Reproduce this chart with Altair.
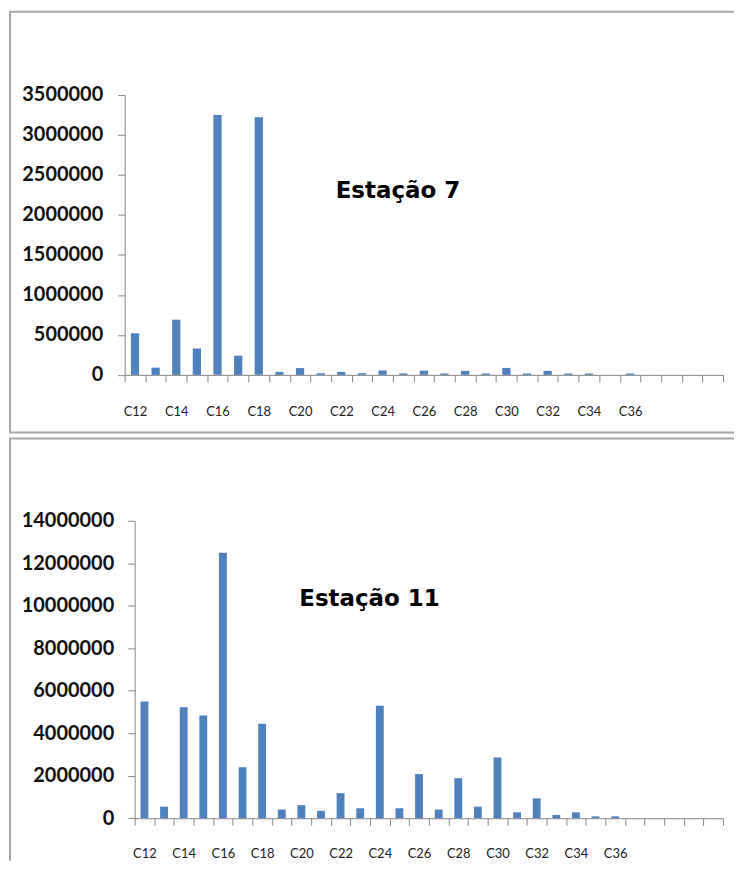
import altair as alt
import pandas as pd

# ---------------- data ----------------
cats_7 = ["C12", "C13", "C14", "C15", "C16", "C17", "C18", "C19", "C20", "C21",
          "C22", "C23", "C24", "C25", "C26", "C27", "C28", "C29", "C30", "C31",
          "C32", "C33", "C34", "C35", "C36", "C37", "C38", "C39", "C40"]
vals_7 = [520000, 90000, 690000, 330000, 3250000, 240000, 3220000, 37000, 85000, 20000,
          37000, 20000, 55000, 18000, 53000, 17000, 50000, 17000, 87000, 17000,
          50000, 17000, 17000, 0, 17000, 0, 0, 0, 0]

cats_11 = ["C12", "C13", "C14", "C15", "C16", "C17", "C18", "C19", "C20", "C21",
           "C22", "C23", "C24", "C25", "C26", "C27", "C28", "C29", "C30", "C31",
           "C32", "C33", "C34", "C35", "C36", "C37", "C38", "C39", "C40", "C41"]
vals_11 = [5500000, 545000, 5220000, 4830000, 12500000, 2400000, 4450000, 410000, 615000, 350000,
           1180000, 470000, 5300000, 470000, 2080000, 405000, 1885000, 545000, 2860000, 280000,
           935000, 155000, 280000, 90000, 90000, 0, 0, 0, 0, 0]

yticks_7 = [0, 500000, 1000000, 1500000, 2000000, 2500000, 3000000, 3500000]
yticks_11 = [0, 2000000, 4000000, 6000000, 8000000, 10000000, 12000000, 14000000]

titles = ["Estação 7", "Estação 11"]

BAR = "#4F81BD"
AXIS = "#868686"
BORDER = "#A6A6A6"
W = 727
H = 427

label_expr = ("(toNumber(substring(datum.value, 1)) % 2 == 0 && "
              "toNumber(substring(datum.value, 1)) <= 36) ? datum.value : ''")


def panel(cats, vals, yticks, ymax, xr, yr, ylabpad, xlabpad, title, tpos, borders):
    df = pd.DataFrame({"cat": cats, "val": vals})
    bars = alt.Chart(df).mark_bar(color=BAR, width=alt.RelativeBandSize(0.4)).encode(
        x=alt.X("cat:N",
                scale=alt.Scale(domain=cats, range=xr, paddingInner=0, paddingOuter=0),
                axis=alt.Axis(title=None, orient="bottom", offset=yr[0] - H,
                              tickBand="extent", tickSize=7, tickColor=AXIS,
                              domainColor=AXIS, labelAngle=0, labelFont="Lato",
                              labelFontSize=13, labelColor="#222",
                              labelPadding=xlabpad, labelExpr=label_expr,
                              labelOverlap=False, grid=False)),
        y=alt.Y("val:Q",
                scale=alt.Scale(domain=[0, ymax], range=yr, nice=False, zero=True),
                axis=alt.Axis(title=None, values=yticks, format="d",
                              offset=-xr[0], tickSize=7, tickColor=AXIS,
                              domainColor=AXIS, labelFont="Lato", labelFontSize=20,
                              labelFontWeight="bold", labelColor="#111",
                              labelPadding=ylabpad, grid=False)),
    )
    txt = alt.Chart(pd.DataFrame({"t": [title]})).mark_text(
        font="DejaVu Sans", fontWeight="bold", fontSize=23, align="center",
        baseline="alphabetic", color="#000"
    ).encode(x=alt.value(tpos[0]), y=alt.value(tpos[1]), text="t:N")

    layers = [bars, txt]
    one = pd.DataFrame({"a": [0]})
    for b in borders:
        r = alt.Chart(one).mark_rule(color=BORDER, strokeWidth=2)
        if b[0] == "v":
            r = r.encode(x=alt.value(b[1]), y=alt.value(b[2]), y2=alt.value(b[3]))
        else:
            r = r.encode(y=alt.value(b[1]), x=alt.value(b[2]), x2=alt.value(b[3]))
        layers.append(r)
    return alt.layer(*layers).properties(width=W, height=H)


top = panel(cats_7, vals_7, yticks_7, 3500000, [116, 716], [366.7, 86], 15, 23.5,
            titles[0], (390, 189),
            [("v", 1, 2, 425), ("h", 2.5, 0, W), ("h", 424.5, 0, W)])
bottom = panel(cats_11, vals_11, yticks_11, 14000000, [126, 716], [384.3, 86], 14, 22,
               titles[1], (361.5, 171),
               [("v", 1, 3, H), ("h", 3.5, 0, W)])

chart = alt.vconcat(top, bottom, spacing=0).properties(
    padding=0
).configure_view(strokeWidth=0)

chart.save("out.html", embed_options={"renderer": "svg", "actions": False})
